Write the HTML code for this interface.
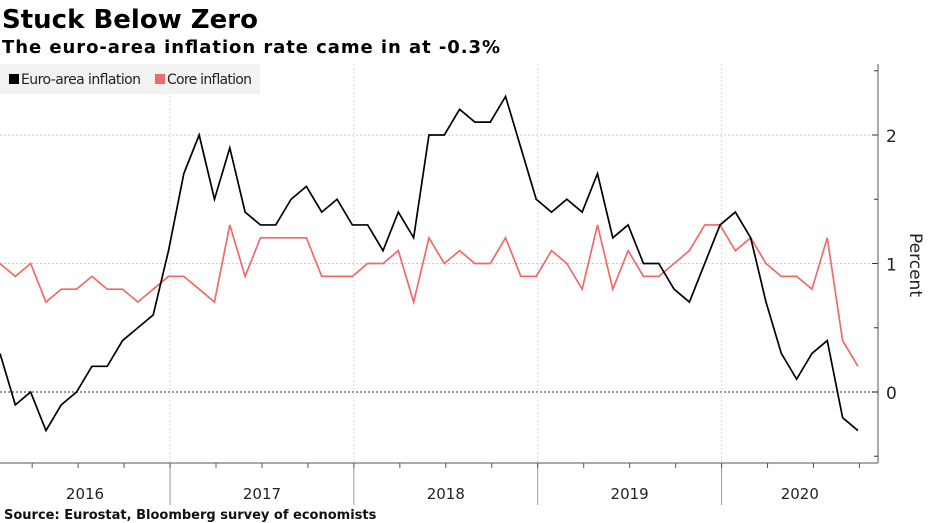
<!DOCTYPE html>
<html><head><meta charset="utf-8"><style>
body{margin:0;background:#fff;width:930px;height:523px;overflow:hidden}
svg{display:block;font-family:"DejaVu Sans","Liberation Sans",sans-serif}
</style></head><body>
<svg id="chart" width="930" height="523">
<text x="2" y="28" font-size="26" font-weight="bold" textLength="256">Stuck Below Zero</text>
<text x="2" y="53" font-size="18" font-weight="bold" textLength="498">The euro-area inflation rate came in at -0.3%</text>
<g id="grid"></g>
<g id="lines"></g>
<g id="axes"></g>
<g>
<rect x="0" y="64" width="260" height="30" fill="#f2f2f2"/>
<rect x="9" y="74" width="10" height="10" fill="#000"/>
<text x="21" y="84" font-size="14" fill="#222" textLength="120">Euro-area inflation</text>
<rect x="155" y="74" width="10" height="10" fill="#f06a6a"/>
<text x="167" y="84" font-size="14" fill="#222" textLength="85">Core inflation</text>
</g>
<text x="0" y="0" transform="translate(910,265) rotate(90)" font-size="17" text-anchor="middle" fill="#222">Percent</text>
<text x="4" y="519" font-size="13" font-weight="bold" fill="#111">Source: Eurostat, Bloomberg survey of economists</text>
</svg>
<script>
const euro = [0.3,-0.1,0,-0.3,-0.1,0,0.2,0.2,0.4,0.5,0.6,1.1,1.7,2.0,1.5,1.9,1.4,1.3,1.3,1.5,1.6,1.4,1.5,1.3,1.3,1.1,1.4,1.2,2.0,2.0,2.2,2.1,2.1,2.3,1.9,1.5,1.4,1.5,1.4,1.7,1.2,1.3,1.0,1.0,0.8,0.7,1.0,1.3,1.4,1.2,0.7,0.3,0.1,0.3,0.4,-0.2,-0.3];
const core = [1.0,0.9,1.0,0.7,0.8,0.8,0.9,0.8,0.8,0.7,0.8,0.9,0.9,0.8,0.7,1.3,0.9,1.2,1.2,1.2,1.2,0.9,0.9,0.9,1.0,1.0,1.1,0.7,1.2,1.0,1.1,1.0,1.0,1.2,0.9,0.9,1.1,1.0,0.8,1.3,0.8,1.1,0.9,0.9,1.0,1.1,1.3,1.3,1.1,1.2,1.0,0.9,0.9,0.8,1.2,0.4,0.2];
const yearLabels = ["2016","2017","2018","2019","2020"];
const yTicks = [0,1,2];
const NS="http://www.w3.org/2000/svg";
const X = i => i*15.32;
const Y = v => 392 - v*128.5;
const yearStart = k => X(-0.9 + 12*k);
function mk(tag, attrs, parent){const e=document.createElementNS(NS,tag);for(const k in attrs)e.setAttribute(k,attrs[k]);parent.appendChild(e);return e;}
const grid=document.getElementById('grid'), lines=document.getElementById('lines'), axes=document.getElementById('axes');
yTicks.forEach(v=>{
  const l=mk('line',{x1:0,x2:878,y1:Y(v),y2:Y(v),stroke:v===0?'#777':'#ccc','stroke-width':v===0?1.5:1,'stroke-dasharray':'2,2'},grid);
  
  
  const t=mk('text',{x:886,y:Y(v)+7,'font-size':17,fill:'#222'},axes);
  t.textContent=String(v);
  
  
  mk('line',{x1:872,x2:878,y1:Y(v),y2:Y(v),stroke:'#333'},axes);
});
for(let v=-0.5; v<=2.51; v+=0.5){mk('line',{x1:874,x2:878,y1:Y(v),y2:Y(v),stroke:'#333'},axes);}
for(let k=1;k<yearLabels.length;k++){
  const x=yearStart(k);
  const g=mk('line',{x1:x,x2:x,y1:64,y2:463,stroke:'#ddd','stroke-dasharray':'2,2'},grid);
  
  
  mk('line',{x1:x,x2:x,y1:463,y2:505,stroke:'#999'},axes);
}
yearLabels.forEach((lab,k)=>{
  const x0=Math.max(0,yearStart(k)), x1=Math.min(878,yearStart(k+1));
  const t=mk('text',{x:(x0+x1)/2,y:499,'font-size':15,'text-anchor':'middle',fill:'#222'},axes);
  t.textContent=lab;
  
  
});
for(let i=2;i<euro.length+2;i+=3){mk('line',{x1:X(i+0.1),x2:X(i+0.1),y1:463,y2:468,stroke:'#555'},axes);}
mk('line',{x1:878,x2:878,y1:64,y2:463,stroke:'#555'},axes);
mk('line',{x1:0,x2:878,y1:463,y2:463,stroke:'#555'},axes);
function path(arr,color,name){
  const p=mk('polyline',{points:arr.map((v,i)=>X(i)+','+Y(v)).join(' '),fill:'none',stroke:color,'stroke-width':1.7,'stroke-linejoin':'miter'},lines);
  
  
}
path(core,'#f06a6a','core-inflation-line');
path(euro,'#000','euro-area-inflation-line');
</script>
</body></html>
